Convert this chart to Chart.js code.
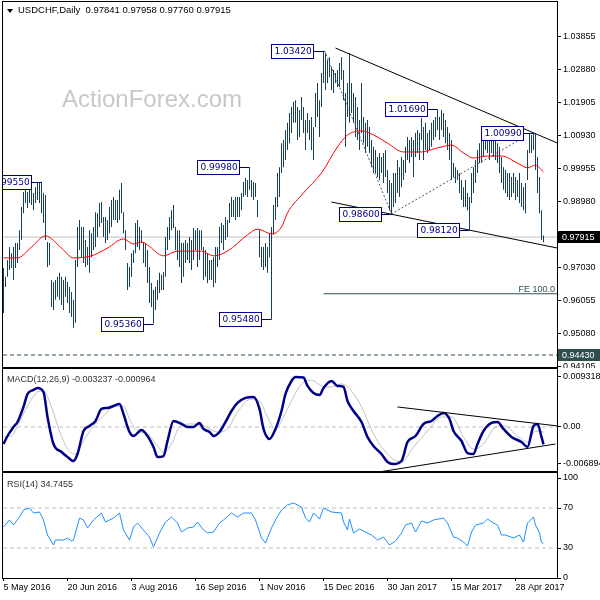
<!DOCTYPE html>
<html>
<head>
<meta charset="utf-8">
<script src="https://cdn.jsdelivr.net/npm/chart.js@4.4.1/dist/chart.umd.min.js"></script>
<style>
  html, body { margin: 0; padding: 0; background: #fff; }
  #wrap { position: relative; width: 600px; height: 600px; overflow: hidden; font-family: "Liberation Sans", Arial, sans-serif; }
  #wrap canvas { position: absolute; left: 0; }
  .lbl { position: absolute; white-space: nowrap; pointer-events: none; }
</style>
</head>
<body>
<div id="wrap">
  <canvas id="main" width="600" height="368" style="top:0px"></canvas>
  <canvas id="macd" width="600" height="104" style="top:368px"></canvas>
  <canvas id="rsi" width="600" height="128" style="top:472px"></canvas>

  <div class="lbl" style="left:7px;top:9px;width:0;height:0;border-left:3px solid transparent;border-right:3px solid transparent;border-top:4px solid #000"></div>
  <div class="lbl" style="left:18px;top:4px;font-size:9.5px;line-height:12px;color:#000">USDCHF,Daily&nbsp; 0.97841 0.97958 0.97760 0.97915</div>
  <div class="lbl" style="left:62px;top:87px;font-size:24px;line-height:24px;color:#c8c8c8">ActionForex.com</div>
  <div class="lbl" style="left:7px;top:374px;font-size:9px;line-height:11px;color:#333">MACD(12,26,9) -0.003237 -0.000964</div>
  <div class="lbl" style="left:7px;top:479px;font-size:9px;line-height:11px;color:#333">RSI(14) 34.7455</div>
</div>
<script>
// daily bars, 5 May 2016 .. 17 May 2017 (index = trading day)
const highs = [
  .9700,.9674,.9724,.9762,.9744,.9762,.9774,.9774,.9812,.9880,.9925,.9936,.9925,.9939,.9931,.9922,
  .9939,.9954,.9954,.9955,.9922,.9916,.9777,.9774,.9665,.9659,.9665,.9674,.9686,.9674,.9665,.9674,
  .9659,.9644,.9629,.9606,.9724,.9821,.9842,.9821,.9821,.9783,.9762,.9812,.9803,.9821,.9865,.9862,
  .9892,.9895,.9851,.9851,.9842,.9880,.9901,.9910,.9901,.9901,.9931,.9951,.9865,.9812,.9715,.9703,
  .9744,.9753,.9833,.9842,.9821,.9812,.9774,.9774,.9753,.9703,.9656,.9635,.9644,.9665,.9686,.9680,
  .9688,.9792,.9821,.9851,.9871,.9886,.9821,.9812,.9812,.9774,.9774,.9783,.9774,.9792,.9783,.9818,
  .9812,.9818,.9812,.9812,.9762,.9753,.9744,.9724,.9724,.9732,.9762,.9762,.9821,.9833,.9827,.9851,
  .9842,.9892,.9910,.9901,.9910,.9910,.9910,.9922,.9954,.9966,.9960,.9998,.9960,.9954,.9951,.9901,
  .9812,.9762,.9762,.9774,.9762,.9803,.9821,.9886,.9910,.9981,.9998,1.0069,1.0078,1.0108,1.0129,1.0158,
  1.0176,1.0191,1.0196,1.0176,1.0167,1.0205,1.0176,1.0137,1.0158,1.0137,1.0146,1.0117,1.0217,1.0247,1.0196,1.0276,
  1.0342,1.0335,1.0315,1.0323,1.0294,1.0285,1.0276,1.0285,1.0306,1.0323,1.0285,1.0217,1.0247,1.0335,1.0247,1.0217,
  1.0205,1.0176,1.0137,1.0247,1.0146,1.0129,1.0137,1.0117,1.0078,1.0058,1.0049,1.0028,1.0040,1.0028,1.0040,1.0049,
  .9990,.9960,.9951,.9981,.9981,1.0019,.9998,1.0028,1.0019,1.0058,1.0087,1.0078,1.0087,1.0078,1.0099,1.0108,
  1.0099,1.0143,1.0117,1.0129,1.0099,1.0108,1.0129,1.0137,1.0146,1.0169,1.0146,1.0167,1.0158,1.0137,1.0117,1.0099,
  1.0078,1.0010,.9998,.9990,.9981,.9960,.9939,.9960,.9922,.9910,.9981,.9998,1.0019,1.0049,1.0069,1.0078,
  1.0099,1.0099,1.0108,1.0087,1.0099,1.0087,1.0078,1.0069,1.0058,1.0028,.9998,.9990,.9981,.9981,.9969,.9981,
  .9969,.9960,.9981,.9951,.9939,.9951,1.0049,1.0099,1.0093,1.0099,1.0099,1.0028,.9969,.9871,.97958
];
const lows = [
  .9567,.9644,.9674,.9694,.9700,.9665,.9700,.9715,.9753,.9783,.9862,.9892,.9877,.9892,.9886,.9871,
  .9892,.9901,.9892,.9862,.9833,.9783,.9703,.9709,.9585,.9576,.9606,.9615,.9606,.9591,.9576,.9615,
  .9597,.9567,.9555,.9523,.9538,.9703,.9753,.9732,.9715,.9703,.9709,.9686,.9732,.9753,.9762,.9792,
  .9821,.9833,.9792,.9774,.9783,.9803,.9821,.9842,.9842,.9833,.9842,.9862,.9803,.9753,.9635,.9644,
  .9674,.9715,.9744,.9762,.9753,.9774,.9715,.9703,.9656,.9597,.9585,.9536,.9576,.9606,.9626,.9635,
  .9635,.9674,.9753,.9783,.9812,.9818,.9753,.9724,.9703,.9656,.9674,.9715,.9724,.9715,.9694,.9724,
  .9753,.9703,.9724,.9753,.9665,.9674,.9656,.9665,.9665,.9644,.9656,.9703,.9724,.9774,.9753,.9783,
  .9792,.9833,.9851,.9851,.9842,.9851,.9851,.9871,.9910,.9916,.9910,.9931,.9910,.9901,.9910,.9851,
  .9732,.9703,.9694,.9703,.9686,.9732,.9548,.9798,.9842,.9880,.9910,.9981,.9998,1.0019,1.0049,1.0069,
  1.0099,1.0129,1.0129,1.0078,1.0087,1.0137,1.0099,1.0049,1.0099,1.0078,1.0049,1.0019,1.0117,1.0146,1.0087,1.0176,
  1.0247,1.0226,1.0247,1.0264,1.0226,1.0217,1.0247,1.0235,1.0235,1.0256,1.0196,1.0058,1.0146,1.0129,1.0158,1.0129,
  1.0087,1.0078,1.0049,1.0099,1.0069,1.0040,1.0058,1.0040,.9998,.9981,.9981,.9969,.9960,.9981,.9951,.9969,
  .9922,.9871,.9860,.9880,.9892,.9922,.9910,.9939,.9960,.9981,1.0019,1.0010,1.0028,.9969,1.0028,1.0040,
  1.0019,1.0078,1.0019,1.0049,1.0040,1.0049,1.0058,1.0078,1.0087,1.0108,1.0078,1.0108,1.0087,1.0069,1.0049,1.0019,
  .9960,.9969,.9951,.9960,.9922,.9901,.9880,.9880,.9871,.9812,.9892,.9922,.9951,.9981,1.0010,1.0010,
  1.0028,1.0049,1.0040,1.0019,1.0040,1.0028,1.0019,1.0010,.9981,.9951,.9931,.9922,.9910,.9901,.9910,.9922,
  .9901,.9910,.9892,.9880,.9871,.9862,.9960,1.0040,1.0040,1.0049,.9990,.9922,.9862,.9783,.9776
];

// 55 day moving average (red)
const maIdx = [0,7,14,21,29,35,44,52,60,65,69,72,80,87,99,105,112,122,127,134,139,142,150,159,167,172,179,185,192,200,209,217,224,230,235,242,249,257,262,266,270];
const maVal = [0.9730,0.9730,0.9762,0.9795,0.9759,0.9730,0.9736,0.9759,0.9786,0.9771,0.9777,0.9768,0.9736,0.9750,0.9750,0.9736,0.9750,0.9798,0.9815,0.9801,0.9821,0.9863,0.9922,0.9981,1.0058,1.0093,1.0105,1.0093,1.0069,1.0043,1.0043,1.0055,1.0063,1.0040,1.0025,1.0031,1.0031,1.0010,0.9996,1.0004,0.9984];

// drawn objects on the price panel
const lastClose = 0.97915;
const supportLevel = 0.94430;
const feLevel = 0.9624;
const feStart = 160;
const upperTlIdx = [166, 277];
const upperTlVal = [1.0350, 1.0069];
const lowerTlIdx = [164, 277];
const lowerTlVal = [0.9895, 0.9759];
const zigIdx = [160.5, 194, 259.5];
const zigVal = [1.0342, 0.9860, 1.0084];
const labelIdx = [19, 123, 160, 75, 134, 194, 233, 217, 265];
const labelPrice = [0.99550, 0.99980, 1.03420, 0.95360, 0.95480, 0.98600, 0.98120, 1.01690, 1.00990];
const mainTicks = [1.03855, 1.02880, 1.01905, 1.00930, 0.99955, 0.98980, 0.98005, 0.97030, 0.96055, 0.95080, 0.94105];

// MACD(12,26,9)
const macdIdx = [0,2,5,7,10,12,15,17,20,22,25,29,32,35,37,40,43,46,49,52,55,58,60,63,65,69,72,75,77,80,82,85,89,92,95,98,100,103,105,108,111,114,117,121,125,128,130,133,136,139,141,144,146,150,152,155,158,160,164,167,170,172,175,179,182,185,189,192,195,199,202,206,210,214,217,220,223,225,229,232,235,237,240,244,247,250,254,259,262,265,267,269,270];
const macdVal = [-3.17,-1.68,0,0.93,3.73,6.15,6.90,7.27,6.52,1.86,-3.17,-4.66,-5.59,-6.34,-5.03,-0.75,0.19,1.12,3.36,3.54,3.91,4.29,2.42,-0.93,-1.68,-0.56,-1.68,-3.73,-5.59,-5.41,-2.61,1.12,0.56,0,0,0.75,-0.37,-0.93,-1.68,-0.93,0.93,2.98,4.47,5.41,5.59,3.36,-0.37,-2.24,-0.37,2.98,6.15,8.57,9.32,9.20,7.64,6.34,5.96,7.27,8.57,7.64,7.46,4.85,2.98,0.93,-1.86,-3.54,-5.03,-6.52,-6.89,-6.34,-2.80,-1.68,0.56,1.12,2.05,2.61,1.49,-0.75,-2.61,-4.85,-5.03,-3.17,-0.75,0.75,0.93,-0.37,-1.86,-2.80,-3.73,0.19,0.56,-1.86,-3.24];
const sigIdx = [0,4,7,12,17,20,24,28,32,36,40,45,50,55,60,63,67,72,77,80,84,88,94,100,107,112,117,124,128,132,136,140,145,149,154,159,164,169,174,179,185,192,199,205,212,219,224,230,235,240,245,250,257,262,266,270];
const sigVal = [-1.86,-1.68,0.19,3.91,6.52,6.71,3.73,-0.75,-4.10,-5.03,-2.61,0.19,2.05,3.73,3.91,1.49,-0.75,-1.30,-3.54,-4.66,-3.17,0,0.56,0.19,-0.93,-0.37,2.80,5.22,4.85,1.86,-0.37,1.86,5.59,8.02,8.70,7.64,7.46,8.02,6.71,3.73,-1.30,-5.03,-6.52,-3.73,-0.75,1.86,1.86,-1.86,-4.10,-3.17,-0.37,0.19,-1.68,-2.80,-0.75,-0.96];
const macdTicks = [0.009318, 0, -0.006894];
const macdUpIdx = [197, 277];
const macdUpVal = [3.73, 0.19];
const macdLoIdx = [187.5, 276];
const macdLoVal = [-8.39, -3.17];

// RSI(14)
const rsiIdx = [0,3,5,8,10,13,15,18,20,22,25,26,30,32,34,35,38,40,42,45,49,51,55,58,60,63,65,67,70,73,75,78,81,84,87,89,92,95,97,100,102,105,108,110,114,117,120,124,126,129,131,134,136,139,142,145,149,151,153,155,158,160,164,169,170,172,173,175,178,181,184,187,190,193,196,199,201,204,206,209,212,215,220,222,225,227,230,232,234,236,240,242,245,247,249,251,255,258,260,262,265,266,268,269,270];
const rsiVal = [51,58,53,61,68,70,65,66,58,43,33,38,38,40,37,38,60,58,50,58,65,56,60,65,48,38,51,55,48,41,31,45,56,61,55,46,50,51,56,48,45,46,55,58,65,61,65,65,58,40,35,50,58,68,73,75,71,60,56,65,59,70,66,65,56,48,59,45,49,46,43,38,41,33,37,45,53,55,46,57,55,58,60,55,41,40,36,32,46,53,55,59,55,53,43,43,40,43,36,55,61,53,45,35.5,34.75];
const rsiTicks = [100, 70, 30, 0];
const rsiLevels = [70, 30];

// date axis
const xTickIdx = [0, 32, 64, 96, 128, 160, 192, 224, 256];
const xTickText = ['5 May 2016', '20 Jun 2016', '3 Aug 2016', '16 Sep 2016', '1 Nov 2016', '15 Dec 2016', '30 Jan 2017', '15 Mar 2017', '28 Apr 2017'];

const X0 = -0.25, X1 = 276.75;
const BAR = '#17405e';
const NAVY = '#000080';
const FONT = { family: 'Liberation Sans', size: 9 };

Chart.defaults.font.family = 'Liberation Sans';

const pairs = (xs, ys, k) => xs.map((x, n) => ({ x: x, y: ys[n] * (k || 1) }));
const mkLine = (pts, color, width, extra) => Object.assign({
  type: 'line', data: pts, borderColor: color, borderWidth: width,
  pointRadius: 0, fill: false, tension: 0, order: 0
}, extra || {});

function rightAxis(min, max, ticks, fmt) {
  return {
    type: 'linear', position: 'right', min: min, max: max,
    // fixed width, and no extra room for half labels at the ends
    afterFit: s => { s.width = 43; s.paddingTop = 0; s.paddingBottom = 0; },
    afterBuildTicks: s => { s.ticks = ticks.map(v => ({ value: v })); },
    grid: { drawOnChartArea: false, drawTicks: true, tickLength: 4, color: '#000' },
    border: { display: false },
    ticks: { font: FONT, color: '#000', padding: 2, autoSkip: false, callback: fmt }
  };
}
const hiddenX = { type: 'linear', min: X0, max: X1, offset: false, display: false };

function opts(xScale, yScale, pad) {
  return {
    responsive: false, animation: false, devicePixelRatio: 1, events: [],
    layout: { padding: pad },
    plugins: { legend: { display: false }, tooltip: { enabled: false } },
    scales: { x: xScale, y: yScale }
  };
}

// box around each panel
const frame = {
  id: 'frame',
  afterDraw(chart) {
    const a = chart.chartArea, c = chart.ctx;
    c.save();
    c.strokeStyle = '#000'; c.lineWidth = 1;
    c.strokeRect(a.left - 0.5, a.top - 0.5, a.right - a.left + 1, a.bottom - a.top + 1);
    c.restore();
  }
};

// price labels, FE text, highlighted axis values
const mainMarks = {
  id: 'mainMarks',
  afterDatasetsDraw(chart) {
    const { ctx, chartArea: a, scales: { x, y } } = chart;
    ctx.save();
    ctx.beginPath(); ctx.rect(a.left, a.top, a.right - a.left, a.bottom - a.top); ctx.clip();
    ctx.font = '9px "DejaVu Sans"';
    ctx.textBaseline = 'middle';
    ctx.lineWidth = 1;
    labelIdx.forEach((idx, k) => {
      const txt = labelPrice[k].toFixed(5);
      const c = x.getPixelForValue(idx);
      const py = Math.round(y.getPixelForValue(labelPrice[k])) + 0.5;
      const w = Math.round(ctx.measureText(txt).width) + 5;
      const br = Math.round(c - 11) + 0.5;
      ctx.strokeStyle = NAVY;
      ctx.beginPath(); ctx.moveTo(br, py); ctx.lineTo(c, py); ctx.stroke();
      ctx.fillStyle = '#fff';
      ctx.fillRect(br - w, py - 7, w, 14);
      ctx.strokeRect(br - w, py - 7, w, 14);
      ctx.fillStyle = NAVY; ctx.textAlign = 'left';
      ctx.fillText(txt, br - w + 3, py + 0.5);
    });
    ctx.font = '9px "Liberation Sans"';
    ctx.fillStyle = '#2f4f4f'; ctx.textAlign = 'right'; ctx.textBaseline = 'alphabetic';
    ctx.fillText('FE 100.0', a.right - 2, y.getPixelForValue(feLevel) - 2);
    ctx.restore();
  },
  afterDraw(chart) {
    const { ctx, chartArea: a, scales: { y } } = chart;
    ctx.save();
    ctx.font = '9px "Liberation Sans"'; ctx.textBaseline = 'middle'; ctx.textAlign = 'left';
    [[lastClose, '#000'], [supportLevel, '#2f4f4f']].forEach(([v, bg]) => {
      const py = Math.round(y.getPixelForValue(v));
      ctx.fillStyle = bg; ctx.fillRect(a.right + 1, py - 6, 600 - a.right, 12);
      ctx.fillStyle = '#fff'; ctx.fillText(v.toFixed(5), a.right + 5, py + 0.5);
    });
    ctx.restore();
  }
};

new Chart(document.getElementById('main'), {
  type: 'bar',
  data: {
    datasets: [
      { type: 'bar', data: highs.map((h, i) => ({ x: i, y: [lows[i], h] })), backgroundColor: BAR,
        barThickness: 1, borderWidth: 0, inflateAmount: 0, grouped: false, order: 3 },
      mkLine(pairs(maIdx, maVal), '#ff0000', 1, { cubicInterpolationMode: 'monotone', order: 1 }),
      mkLine([{ x: X0, y: lastClose }, { x: X1, y: lastClose }], '#c0c0c0', 1, { order: 5 }),
      mkLine([{ x: X0, y: supportLevel }, { x: X1, y: supportLevel }], '#2f4f4f', 1, { borderDash: [4, 3], order: 5 }),
      mkLine([{ x: feStart, y: feLevel }, { x: X1, y: feLevel }], '#2f4f4f', 1, { order: 5 }),
      mkLine(pairs(upperTlIdx, upperTlVal), '#000', 1),
      mkLine(pairs(lowerTlIdx, lowerTlVal), '#000', 1),
      mkLine(pairs(zigIdx, zigVal), '#505050', 1, { borderDash: [2, 2] })
    ]
  },
  options: opts(hiddenX, rightAxis(0.94076, 1.04860, mainTicks, v => v.toFixed(5)),
    { left: 3, right: 0, top: 2, bottom: 1 }),
  plugins: [frame, mainMarks]
});

new Chart(document.getElementById('macd'), {
  type: 'line',
  data: {
    datasets: [
      mkLine([{ x: X0, y: 0 }, { x: X1, y: 0 }], '#c0c0c0', 1, { borderDash: [4, 3], order: 5 }),
      mkLine(pairs(sigIdx, sigVal, 0.001), '#c0c0c0', 1, { cubicInterpolationMode: 'monotone', order: 3 }),
      mkLine(pairs(macdIdx, macdVal, 0.001), '#00008b', 2.5, { cubicInterpolationMode: 'monotone', order: 1 }),
      mkLine(pairs(macdUpIdx, macdUpVal, 0.001), '#000', 1),
      mkLine(pairs(macdLoIdx, macdLoVal, 0.001), '#000', 1)
    ]
  },
  options: opts(hiddenX, rightAxis(-0.0082, 0.0108, macdTicks, v => v === 0 ? '0.00' : v.toFixed(6)),
    { left: 3, right: 0, top: 1, bottom: 1 }),
  plugins: [frame]
});

new Chart(document.getElementById('rsi'), {
  type: 'line',
  data: {
    datasets: rsiLevels.map(l => mkLine([{ x: X0, y: l }, { x: X1, y: l }], '#c0c0c0', 1, { borderDash: [4, 3], order: 5 }))
      .concat([mkLine(pairs(rsiIdx, rsiVal), '#1e90ff', 1, { order: 1 })])
  },
  options: opts({
    type: 'linear', position: 'bottom', min: X0, max: X1, offset: false,
    afterFit: s => { s.height = 22; s.paddingLeft = 0; s.paddingRight = 0; },
    afterBuildTicks: s => { s.ticks = xTickIdx.map(v => ({ value: v })); },
    grid: { drawOnChartArea: false, drawTicks: true, tickLength: 3, color: '#000' },
    border: { display: false },
    ticks: { align: 'start', autoSkip: false, maxRotation: 0, padding: 1, font: FONT, color: '#000',
      callback: (v, i) => xTickText[i] }
  }, rightAxis(0, 105, rsiTicks, v => String(v)), { left: 3, right: 0, top: 1, bottom: 0 }),
  plugins: [frame]
});
</script>
</body>
</html>
